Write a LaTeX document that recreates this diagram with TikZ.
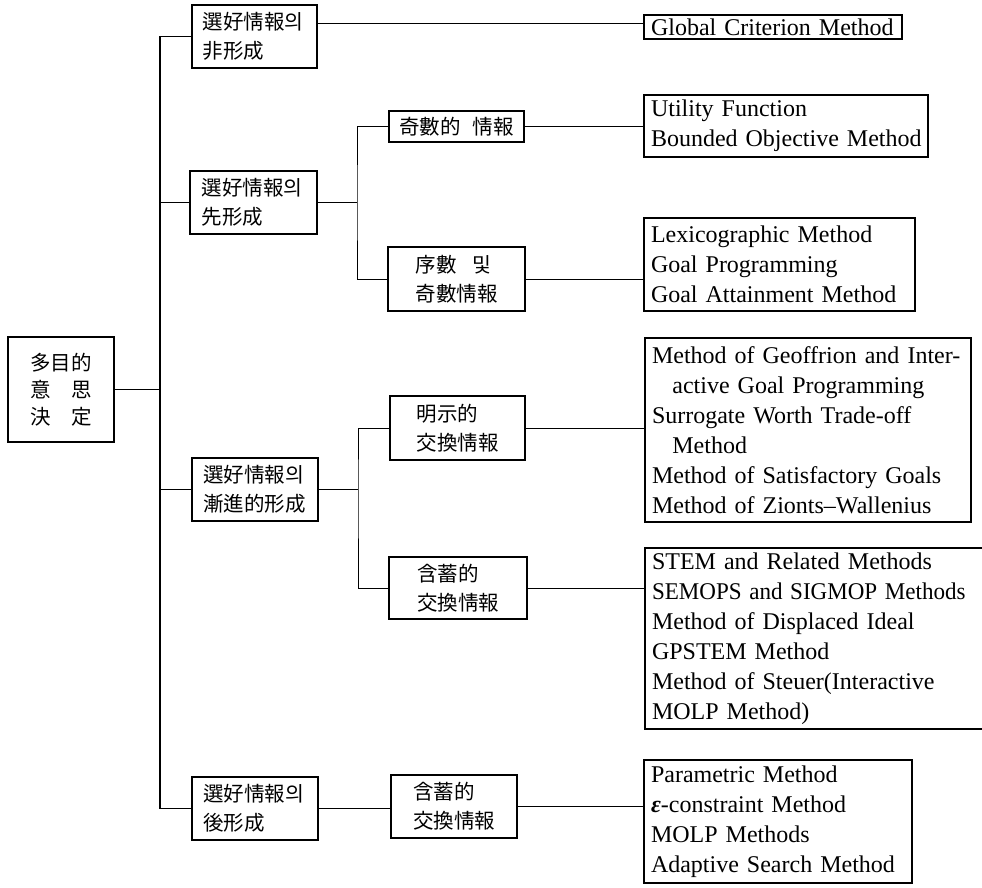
\documentclass[tikz,border=0pt]{standalone}
\usepackage{fontspec}
\setmainfont{Liberation Serif}
\newfontfamily\cjk{Noto Sans CJK KR}
\newcommand\oneline[1]{\mbox{#1}}
\tikzset{
  box/.style={draw, line width=1.1pt, inner sep=0pt},
  cjkbox/.style={box, font=\cjk\fontsize{20.5}{29}\selectfont, align=left},
  rootbox/.style={box, font=\cjk\fontsize{20.5}{27}\selectfont, align=center},
  enbox/.style={box, font=\fontsize{24}{30}\selectfont, align=left, inner xsep=7pt, inner ysep=0pt},
  conn/.style={line width=0.9pt},
  trunk/.style={line width=1.6pt},
}
\begin{document}
\begin{tikzpicture}[x=1pt,y=-1pt]
\useasboundingbox (0,0) rectangle (982,887);
% root
\node[rootbox, minimum width=106pt, minimum height=105pt] (root) at (61,389.5) {多目的\\意\hspace{1em}思\\決\hspace{1em}定};
% level 1
\node[cjkbox, minimum width=125pt, minimum height=63pt, text width=104pt] (n1) at (254.5,36.5) {選好情報의\\非形成};
\node[cjkbox, minimum width=127pt, minimum height=63pt, text width=104pt] (n2) at (253.5,202.5) {選好情報의\\先形成};
\node[cjkbox, minimum width=126pt, minimum height=63pt, text width=104pt] (n3) at (255,489.5) {選好情報의\\漸進的形成};
\node[cjkbox, minimum width=126pt, minimum height=63pt, text width=104pt] (n4) at (255,808.5) {選好情報의\\後形成};
% level 2
\node[cjkbox, minimum width=135pt, minimum height=31pt] (a1) at (456.5,126.5) {奇數的\hspace{0.6em}情報};
\node[cjkbox, minimum width=137pt, minimum height=64pt] (a2) at (456.5,279) {序數\hspace{0.8em}및\\奇數情報};
\node[cjkbox, minimum width=135pt, minimum height=64pt] (m1) at (457.5,428) {明示的\\交換情報};
\node[cjkbox, minimum width=138pt, minimum height=62pt] (m2) at (458,588) {含蓄的\\交換情報};
\node[cjkbox, minimum width=126pt, minimum height=63pt] (p1) at (454,806.5) {含蓄的\\交換情報};
% methods
\node[enbox, minimum width=258pt, minimum height=24pt, text width=244pt] (g1) at (773,27) {\oneline{Global Criterion Method}};
\node[enbox, minimum width=284pt, minimum height=62pt, text width=270pt] (u1) at (786,126) {\oneline{Utility Function}\\\oneline{Bounded Objective Method}};
\node[enbox, minimum width=271pt, minimum height=93pt, text width=257pt] (l1) at (779.5,264.5) {\oneline{Lexicographic Method}\\\oneline{Goal Programming}\\\oneline{Goal Attainment Method}};
\node[enbox, minimum width=326pt, minimum height=184pt, text width=312pt] (r1) at (808,430) {\oneline{Method of Geoffrion and Inter-}\\\oneline{\hspace*{0.85em}active Goal Programming}\\\oneline{Surrogate Worth Trade-off}\\\oneline{\hspace*{0.85em}Method}\\\oneline{Method of Satisfactory Goals}\\\oneline{Method of Zionts--Wallenius}};
\node[enbox, minimum width=339pt, minimum height=181pt, text width=325pt] (s1) at (814.5,638.5) {\oneline{STEM and Related Methods}\\\oneline{\scalebox{0.96}[1]{SEMOPS and SIGMOP Methods}}\\\oneline{Method of Displaced Ideal}\\\oneline{GPSTEM Method}\\\oneline{Method of Steuer(Interactive}\\\oneline{MOLP Method)}};
\node[enbox, minimum width=268pt, minimum height=123pt, text width=254pt] (q1) at (778,821.5) {\oneline{Parametric Method}\\\oneline{{\bfseries\itshape ε}-constraint Method}\\\oneline{MOLP Methods}\\\oneline{Adaptive Search Method}};
% connectors
\coordinate (tb) at (160,389.5);
\coordinate (b2) at (357,202.5);
\coordinate (b3) at (358,489.5);
\draw[trunk] (n1.west) -| (tb) |- (n4.west);
\draw[conn] (root.east) -- (tb);
\draw[conn] (n2.west) -- (n2.west -| tb);
\draw[conn] (n3.west) -- (n3.west -| tb);
\draw[conn] ([yshift=4pt]g1.west -| n1.east) -- ([yshift=4pt]g1.west);
\draw[conn] (n2.east) -- (b2);
\draw[conn] (a1.west) -| (b2) |- (a2.west);
\draw[conn] (a1.east) -- (a1.east -| u1.west);
\draw[conn] (a2.east) -- (a2.east -| l1.west);
\draw[conn] (n3.east) -- (b3);
\draw[conn] (m1.west) -| (b3) |- (m2.west);
\draw[conn] (m1.east) -- (m1.east -| r1.west);
\draw[conn] (m2.east) -- (m2.east -| s1.west);
\draw[conn] (n4.east) -- (n4.east -| p1.west);
\draw[conn] (p1.east) -- (p1.east -| q1.west);
\end{tikzpicture}
\end{document}
